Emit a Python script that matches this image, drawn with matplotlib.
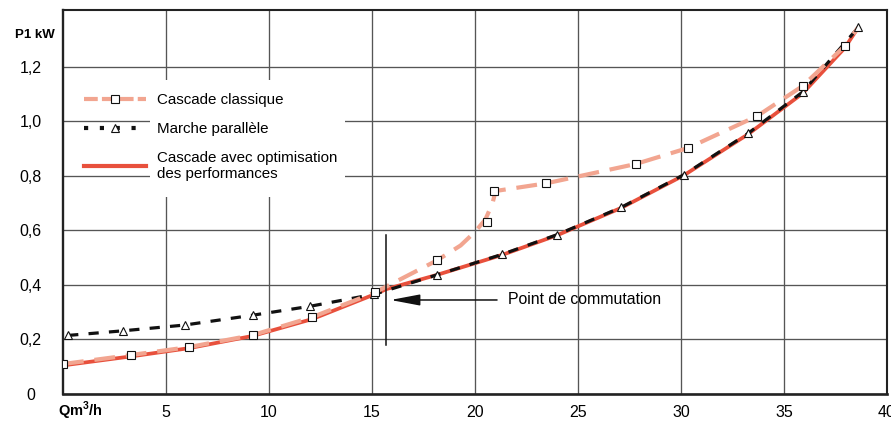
import matplotlib
matplotlib.use("Agg")
import matplotlib.pyplot as plt
from matplotlib.lines import Line2D
from matplotlib.patches import Rectangle

plt.rcParams['font.family'] = ['Liberation Sans', 'DejaVu Sans']
plt.rcParams['mathtext.fontset'] = 'custom'
plt.rcParams['mathtext.rm'] = 'Liberation Sans'
plt.rcParams['mathtext.bf'] = 'Liberation Sans:bold'

# ---- data ----
cls_line_x = [0, 3.3, 6.1, 9.2, 12.1, 15.15, 18.15, 19.3, 20.0, 20.5, 20.85, 21.0, 23.45, 27.8, 30.35, 33.7, 35.9, 37.95, 38.6]
cls_line_y = [0.11, 0.143, 0.172, 0.216, 0.282, 0.373, 0.49, 0.545, 0.595, 0.64, 0.70, 0.745, 0.773, 0.844, 0.903, 1.02, 1.13, 1.277, 1.345]
cls_mark_x = [0, 3.3, 6.1, 9.2, 12.1, 15.15, 18.15, 20.6, 20.9, 23.45, 27.8, 30.35, 33.7, 35.9, 37.95]
cls_mark_y = [0.11, 0.143, 0.172, 0.216, 0.282, 0.373, 0.492, 0.632, 0.745, 0.773, 0.844, 0.903, 1.02, 1.13, 1.277]

par_x = [0.25, 2.93, 5.9, 9.2, 12.0, 15.1, 18.15, 21.3, 24.0, 27.1, 30.15, 33.25, 35.9, 38.6]
par_y = [0.215, 0.232, 0.253, 0.289, 0.322, 0.366, 0.437, 0.512, 0.585, 0.685, 0.805, 0.956, 1.108, 1.345]

opt_x = [0, 3.3, 6.1, 9.2, 12.1, 15.2, 15.7, 18.15, 21.3, 24.0, 27.1, 30.15, 33.25, 35.9, 37.95, 38.6]
opt_y = [0.105, 0.138, 0.168, 0.213, 0.275, 0.368, 0.385, 0.437, 0.51, 0.583, 0.683, 0.803, 0.953, 1.103, 1.27, 1.345]

x_ticks = [5, 10, 15, 20, 25, 30, 35, 40]
x_labels = ['5', '10', '15', '20', '25', '30', '35', '40']
y_ticks = [0, 0.2, 0.4, 0.6, 0.8, 1.0, 1.2]
y_labels = ['0', '0,2', '0,4', '0,6', '0,8', '1,0', '1,2']

switch_x = 15.68
switch_y_range = (0.18, 0.583)
arrow_y = 0.345
arrow_text_x = 21.07
arrow_tip_x = 15.9

SALMON = '#f2a590'
RED = '#e8503c'

fig = plt.figure(figsize=(8.91, 4.21), dpi=100)
ax = fig.add_axes([63/891, 1 - 394/421, (887-63)/891, (394-9.5)/421])
ax.set_xlim(0, 40)
ax.set_ylim(0, 1.411)

ax.set_axisbelow(True)
ax.grid(True, color='#555555', lw=0.95)
ax.set_xticks(x_ticks)
ax.set_xticklabels(x_labels, fontsize=11.5)
ax.set_yticks(y_ticks)
ax.set_yticklabels(y_labels, fontsize=11.5, ha='center')
ax.tick_params(axis='both', length=0)
ax.tick_params(axis='y', pad=23.5)
ax.tick_params(axis='x', pad=8)
for s in ax.spines.values():
    s.set_color('#222222')
    s.set_linewidth(1.5)
ax.spines['bottom'].set_linewidth(1.9)
ax.spines['left'].set_linewidth(1.7)

# white box behind legend
ax.add_patch(Rectangle((4.22, 0.723), 13.7 - 4.22, 1.152 - 0.723,
                       facecolor='white', edgecolor='none', zorder=1))

# curves
ax.plot(opt_x, opt_y, color=RED, lw=2.7, zorder=3, solid_capstyle='round')
ax.plot(par_x, par_y, color='#111111', lw=2.3, ls=(0, (3.2, 3.2)), zorder=4)
ax.plot(cls_line_x, cls_line_y, color=SALMON, lw=3.0, ls=(0, (5, 2.6)), zorder=5)
ax.plot(par_x, par_y, ls='none', marker='^', ms=6.3, mfc='white', mec='#111111', mew=0.8, zorder=6)
ax.plot(cls_mark_x, cls_mark_y, ls='none', marker='s', ms=6.3, mfc='white', mec='#111111', mew=0.8, zorder=7)

# switch point
ax.plot([switch_x, switch_x], list(switch_y_range), color='#111111', lw=1.1, zorder=8)
ax.annotate('', xy=(arrow_tip_x, arrow_y), xytext=(arrow_text_x, arrow_y),
            arrowprops=dict(arrowstyle='-|>,head_length=0.9,head_width=0.17',
                            mutation_scale=20, color='#111111', lw=1.1,
                            shrinkA=0, shrinkB=0), zorder=8)
ax.text(arrow_text_x + 0.55, arrow_y, 'Point de commutation', fontsize=11.4,
        va='center', ha='left', zorder=8)

# legend
handles = [
    Line2D([], [], color=SALMON, lw=3.0, ls=(0, (3.3, 1.0)), marker='s', ms=6.3,
           mfc='white', mec='#111111', mew=0.8),
    Line2D([], [], color='#111111', lw=3.0, ls=(0, (1, 2.8)), marker='^', ms=6.3,
           mfc='white', mec='#111111', mew=0.8),
    Line2D([], [], color=RED, lw=3.0),
]
labels = ['Cascade classique', 'Marche parallèle', 'Cascade avec optimisation\ndes performances']
leg = ax.legend(handles, labels, loc='upper left', bbox_to_anchor=(0.025, 0.782),
                frameon=False, fontsize=10.9, handlelength=4.1, handletextpad=0.77,
                labelspacing=0.98, borderpad=0, borderaxespad=0, numpoints=1)
leg.get_texts()[2].set_linespacing(1.22)
leg.set_zorder(9)

# axis titles
fig.text(35/891, 1 - 35/421, 'P1 kW', fontsize=9.5, fontweight='bold', ha='center', va='center')
fig.text(58/891, 1 - 411/421, r'Qm$^{\mathbf{3}}$/h', fontsize=10.5, fontweight='bold',
         ha='left', va='center')

fig.savefig('out.png', dpi=100)
